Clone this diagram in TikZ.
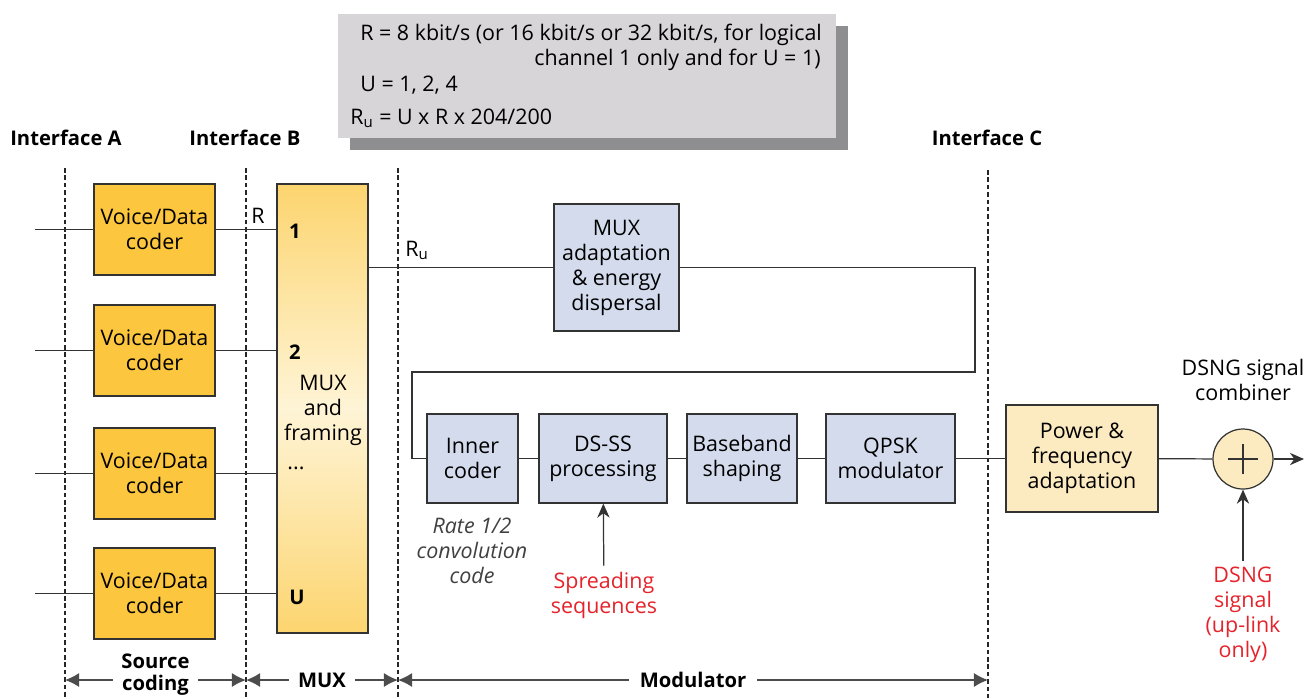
\documentclass[tikz,border=0pt]{standalone}
\usepackage{fontspec}
\setmainfont{Open Sans}
\usetikzlibrary{arrows.meta,calc,positioning}
\definecolor{coderorange}{HTML}{FCC63E}
\definecolor{muxcream}{HTML}{FEF4D6}
\definecolor{modblue}{HTML}{D3DBEC}
\definecolor{powcream}{HTML}{FCEAC0}
\definecolor{notegray}{HTML}{D7D5D7}
\definecolor{shadowgray}{HTML}{8E8E90}
\definecolor{sigred}{HTML}{E5232B}
\pgfdeclareverticalshading{muxfade}{100bp}{color(0bp)=(coderorange); color(13bp)=(coderorange); color(50bp)=(muxcream); color(87bp)=(coderorange); color(100bp)=(coderorange)}
\newcommand{\txt}{\fontsize{12.2}{14.2}\selectfont}
\newcommand{\hdtxt}{\fontsize{11.5}{13.6}\selectfont\bfseries}

\begin{document}
\begin{tikzpicture}[x=0.02cm,y=-0.02cm,>={Stealth[length=8pt,width=7pt,inset=2.5pt]},font=\txt,
  wire/.style={draw=black!80,line width=0.7pt},
  ifline/.style={draw=black!85,line width=1.1pt,dash pattern=on 2.6pt off 1.6pt},
  coder/.style={draw=black!80,line width=0.7pt,fill=coderorange,minimum width=2.42cm,
    minimum height=1.82cm,align=center,inner sep=0pt},
  modblk/.style={draw=black!80,line width=0.7pt,fill=modblue,minimum height=1.78cm,
    align=center,inner sep=0pt},
  chan/.style={font=\hdtxt},
  span/.style={{Latex[length=8pt,width=8pt]}-{Latex[length=8pt,width=8pt]},
    draw=black!70,line width=0.8pt},
  redtxt/.style={text=sigred,align=center}]
  \useasboundingbox (0,0) rectangle (1306,698);

  % parameter note with its shadow
  \fill[shadowgray] (350,26) rectangle (848,150);
  \node[fill=notegray,minimum width=9.96cm,minimum height=2.48cm,inner sep=0pt] (note) at (587,76) {};
  \node[anchor=base west,inner sep=0pt] (noteR) at (360,40) {R = 8 kbit/s (or 16 kbit/s or 32 kbit/s, for logical};
  \node[anchor=base east,inner sep=0pt] (noteCh) at (821,65) {channel 1 only and for U = 1)};
  \node[anchor=base west,inner sep=0pt] (noteU) at (360,91) {U = 1, 2, 4};
  \node[anchor=base west,inner sep=0pt] (noteRu) at (350,124) {R\textsubscript{u} = U x R x 204/200};

  % interfaces
  \node[chan] (ifA) at (66,138) {Interface A};
  \node[chan] (ifB) at (245,138) {Interface B};
  \node[chan] (ifC) at (987,138) {Interface C};
  \coordinate (ifAtop) at (65,168);  \coordinate (ifAbot) at (65,698);
  \coordinate (ifBtop) at (246,168); \coordinate (ifBbot) at (246,698);
  \coordinate (ifMtop) at (398,168); \coordinate (ifMbot) at (398,698);
  \coordinate (ifCtop) at (988,170); \coordinate (ifCbot) at (988,698);
  \draw[ifline] (ifAtop) -- (ifAbot);
  \draw[ifline] (ifBtop) -- (ifBbot);
  \draw[ifline] (ifMtop) -- (ifMbot);
  \draw[ifline] (ifCtop) -- (ifCbot);

  % source coders
  \node[coder] (vd1) at (154.5,229.5) {Voice/Data\\coder};
  \node[coder] (vd2) at (154.5,350.5) {Voice/Data\\coder};
  \node[coder] (vd3) at (154.5,473.5) {Voice/Data\\coder};
  \node[coder] (vd4) at (154.5,593.5) {Voice/Data\\coder};
  \coordinate (in1) at (35,229.5);
  \coordinate (in2) at (35,350.5);
  \coordinate (in3) at (35,473.5);
  \coordinate (in4) at (35,593.5);

  % multiplexer
  \node[draw=black!80,line width=0.7pt,shade,shading=muxfade,minimum width=1.82cm,
    minimum height=8.98cm,inner sep=0pt] (mux) at (322.5,408.5) {};
  \node[chan] (ch1) at (295,231) {1};
  \node[chan] (ch2) at (295,352) {2};
  \node (chdots) at (296,468) {...};
  \node[chan] (chU) at (297,597) {U};
  \node[align=center] (muxtxt) at (323,410) {MUX\\and\\framing};
  \node (rlbl) at (258,216) {R};
  \node (rulbl) at (417,250) {R\textsubscript{u}};

  \draw[wire] (in1) -- (vd1);
  \draw[wire] (in2) -- (vd2);
  \draw[wire] (in3) -- (vd3);
  \draw[wire] (in4) -- (vd4);
  \draw[wire] (vd1) -- (vd1 -| mux.west);
  \draw[wire] (vd2) -- (vd2 -| mux.west);
  \draw[wire] (vd3) -- (vd3 -| mux.west);
  \draw[wire] (vd4) -- (vd4 -| mux.west);

  % modulator chain
  \node[modblk,minimum width=2.5cm,minimum height=2.54cm] (adapt) at (616.5,267.5)
    {MUX\\adaptation\\\& energy\\dispersal};
  \node[modblk,minimum width=1.82cm] (inner) at (472.5,458.5) {Inner\\coder};
  \node[modblk,minimum width=2.56cm] (dsss) at (603,458.5) {DS-SS\\processing};
  \node[modblk,minimum width=2.2cm] (base) at (742,458.5) {Baseband\\shaping};
  \node[modblk,minimum width=2.58cm] (qpsk) at (890.5,458.5) {QPSK\\modulator};
  \coordinate (turnA) at (975,267.5);
  \coordinate (turnB) at (975,372);
  \coordinate (turnC) at (412,372);
  \draw[wire] (mux.east |- adapt) -- (adapt);
  \draw[wire] (adapt) -- (turnA) -- (turnB) -- (turnC) |- (inner);
  \draw[wire] (inner) -- (dsss);
  \draw[wire] (dsss) -- (base);
  \draw[wire] (base) -- (qpsk);

  \node[align=center,font=\txt\itshape,text=black!75] (rate) at (472,551)
    {Rate 1/2\\convolution\\code};
  \node[redtxt] (spread) at (604,595) {Spreading\\sequences};
  \draw[wire,->] (spread) -- (dsss);

  % up-link side
  \node[draw=black!80,line width=0.7pt,fill=powcream,minimum width=3.04cm,
    minimum height=2.14cm,align=center,inner sep=0pt] (power) at (1082,458.5)
    {Power \&\\frequency\\adaptation};
  \node[circle,draw=black!80,line width=0.7pt,fill=powcream,minimum size=1.2cm] (comb) at (1243,459) {};
  \draw[wire] ($(comb)+(-15,0)$) -- ($(comb)+(15,0)$);
  \draw[wire] ($(comb)+(0,-15)$) -- ($(comb)+(0,15)$);
  \node[align=center] (comblbl) at (1243,380) {DSNG signal\\combiner};
  \node[redtxt] (dsng) at (1243,615) {DSNG\\signal\\(up-link\\only)};
  \coordinate (out) at (1304,459);
  \draw[wire] (qpsk) -- (power);
  \draw[wire] (power) -- (comb);
  \draw[wire,->] (comb) -- (out);
  \draw[wire,->] (dsng) -- (comb);

  % section spans
  \coordinate (spA) at (65,680);
  \coordinate (spB) at (246,680);
  \coordinate (spM) at (398,680);
  \coordinate (spC) at (988,680);
  \draw[span] (spA) -- node[fill=white,align=center,inner xsep=5pt,inner ysep=0pt,
    font=\fontsize{11.5}{12.5}\selectfont\bfseries,yshift=0.1cm] {Source\\coding} (spB);
  \draw[span] (spB) -- node[fill=white,inner xsep=5pt,chan]{MUX} (spM);
  \draw[span] (spM) -- node[fill=white,inner xsep=6pt,chan]{Modulator} (spC);
\end{tikzpicture}
\end{document}
